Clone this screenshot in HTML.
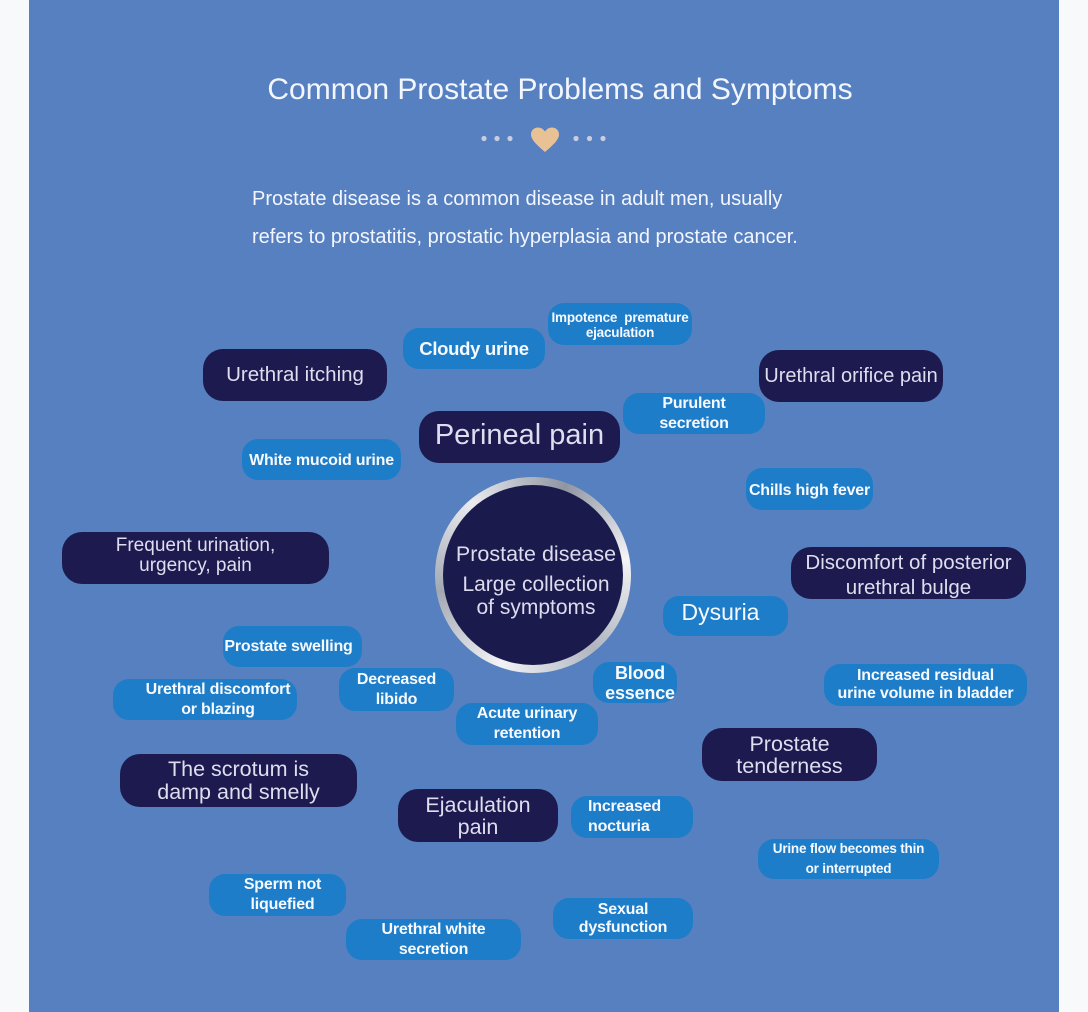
<!DOCTYPE html>
<html><head><meta charset="utf-8">
<style>
html,body{margin:0;padding:0;}
body{width:1088px;height:1012px;background:#f8f9fa;position:relative;overflow:hidden;font-family:"Liberation Sans",Arial,sans-serif;}
#panel{position:absolute;left:29px;top:0;width:1030px;height:1012px;background:#5680bf;}
.t{position:absolute;color:#f3f6ff;white-space:nowrap;}
.p{position:absolute;display:flex;align-items:center;justify-content:center;text-align:center;white-space:nowrap;box-sizing:border-box;}
.d{background:#1c1a4e;color:#dedeef;border-radius:20px;font-weight:normal;}
.l{background:#1e7dc8;color:#f6f9ff;border-radius:16px;font-weight:bold;font-size:16px;line-height:20px;letter-spacing:-0.2px;}
</style></head><body>
<div id="panel"></div>

<div class="t" style="left:0;width:1120px;text-align:center;top:72px;font-size:30px;line-height:36px;">Common Prostate Problems and Symptoms</div>

<svg style="position:absolute;left:0;top:0" width="1088" height="200">
  <g fill="#c9cde0">
    <circle cx="484" cy="138.5" r="2.6"/><circle cx="497" cy="138.5" r="2.6"/><circle cx="510" cy="138.5" r="2.6"/>
    <circle cx="576" cy="138.5" r="2.6"/><circle cx="589.5" cy="138.5" r="2.6"/><circle cx="603" cy="138.5" r="2.6"/>
  </g>
  <path d="M545 152 C538 146 531 140 531 134.5 C531 130 534.5 127.5 538 127.5 C541.5 127.5 543.5 129.5 545 131.5 C546.5 129.5 548.5 127.5 552 127.5 C555.5 127.5 559 130 559 134.5 C559 140 552 146 545 152 Z" fill="#e8c295"/>
</svg>

<div class="t" style="left:252px;top:180px;font-size:20px;line-height:38px;">Prostate disease is a common disease in adult men, usually<br>refers to prostatitis, prostatic hyperplasia and prostate cancer.</div>

<!-- center circle -->
<div style="position:absolute;left:435px;top:477px;width:196px;height:196px;border-radius:50%;background:conic-gradient(from 200deg,#f2f3f6,#a3a8b3,#e9ebef,#8f95a2,#f4f5f7,#b0b5bf,#f2f3f6);"></div>
<div style="position:absolute;left:443px;top:485px;width:180px;height:180px;border-radius:50%;background:#1b1a4d;"></div>
<div class="t" style="left:433px;width:206px;text-align:center;top:541px;font-size:21.5px;line-height:26px;color:#dcdcee;">Prostate disease</div>
<div class="t" style="left:433px;width:206px;text-align:center;top:573px;font-size:21px;line-height:23px;color:#dcdcee;">Large collection<br>of symptoms</div>

<!-- dark pills -->
<div class="p d" style="left:203px;top:349px;width:184px;height:52px;font-size:20.5px;">Urethral itching</div>
<div class="p d" style="left:419px;top:411px;width:201px;height:52px;font-size:29px;padding-bottom:3px;">Perineal pain</div>
<div class="p d" style="left:759px;top:350px;width:184px;height:52px;font-size:20px;">Urethral orifice pain</div>
<div class="p d" style="left:791px;top:547px;width:235px;height:52px;font-size:20.5px;line-height:25px;padding-top:3px;">Discomfort of posterior<br>urethral bulge</div>
<div class="p d" style="left:62px;top:532px;width:267px;height:52px;font-size:19px;line-height:20px;padding-bottom:5px;">Frequent urination,<br>urgency, pain</div>
<div class="p d" style="left:120px;top:754px;width:237px;height:53px;font-size:21.5px;line-height:23px;">The scrotum is<br>damp and smelly</div>
<div class="p d" style="left:702px;top:728px;width:175px;height:53px;font-size:21.5px;line-height:22px;">Prostate<br>tenderness</div>
<div class="p d" style="left:398px;top:789px;width:160px;height:53px;font-size:21.5px;line-height:22px;">Ejaculation<br>pain</div>

<!-- light pills -->
<div class="p l" style="left:403px;top:328px;width:142px;height:41px;font-size:18.5px;font-weight:bold;letter-spacing:-0.3px;">Cloudy urine</div>
<div class="p l" style="left:548px;top:303px;width:144px;height:42px;font-size:13.5px;line-height:15px;padding-top:2px;">Impotence&nbsp; premature<br>ejaculation</div>
<div class="p l" style="left:623px;top:393px;width:142px;height:41px;">Purulent<br>secretion</div>
<div class="p l" style="left:242px;top:439px;width:159px;height:41px;padding-top:3px;">White mucoid urine</div>
<div class="p l" style="left:746px;top:468px;width:127px;height:42px;padding-top:3px;">Chills high fever</div>
<div class="p l" style="left:663px;top:596px;width:125px;height:40px;font-size:23px;font-weight:normal;letter-spacing:0;padding-bottom:9px;padding-right:10px;">Dysuria</div>
<div class="p l" style="left:223px;top:626px;width:139px;height:41px;padding-right:8px;padding-top:1px;">Prostate swelling</div>
<div class="p l" style="left:113px;top:679px;width:184px;height:41px;padding-left:26px;">Urethral discomfort<br>or blazing</div>
<div class="p l" style="left:339px;top:668px;width:115px;height:43px;">Decreased<br>libido</div>
<div class="p l" style="left:593px;top:662px;width:84px;height:41px;font-size:18px;padding-left:10px;">Blood<br>essence</div>
<div class="p l" style="left:456px;top:703px;width:142px;height:42px;">Acute urinary<br>retention</div>
<div class="p l" style="left:824px;top:664px;width:203px;height:42px;line-height:18px;">Increased residual<br>urine volume in bladder</div>
<div class="p l" style="left:571px;top:796px;width:122px;height:42px;justify-content:flex-start;text-align:left;padding-left:17px;">Increased<br>nocturia</div>
<div class="p l" style="left:758px;top:839px;width:181px;height:40px;font-size:13.5px;line-height:20px;">Urine flow becomes thin<br>or interrupted</div>
<div class="p l" style="left:209px;top:874px;width:137px;height:42px;padding-left:10px;">Sperm not<br>liquefied</div>
<div class="p l" style="left:346px;top:919px;width:175px;height:41px;">Urethral white<br>secretion</div>
<div class="p l" style="left:553px;top:898px;width:140px;height:41px;line-height:18px;">Sexual<br>dysfunction</div>

</body></html>
